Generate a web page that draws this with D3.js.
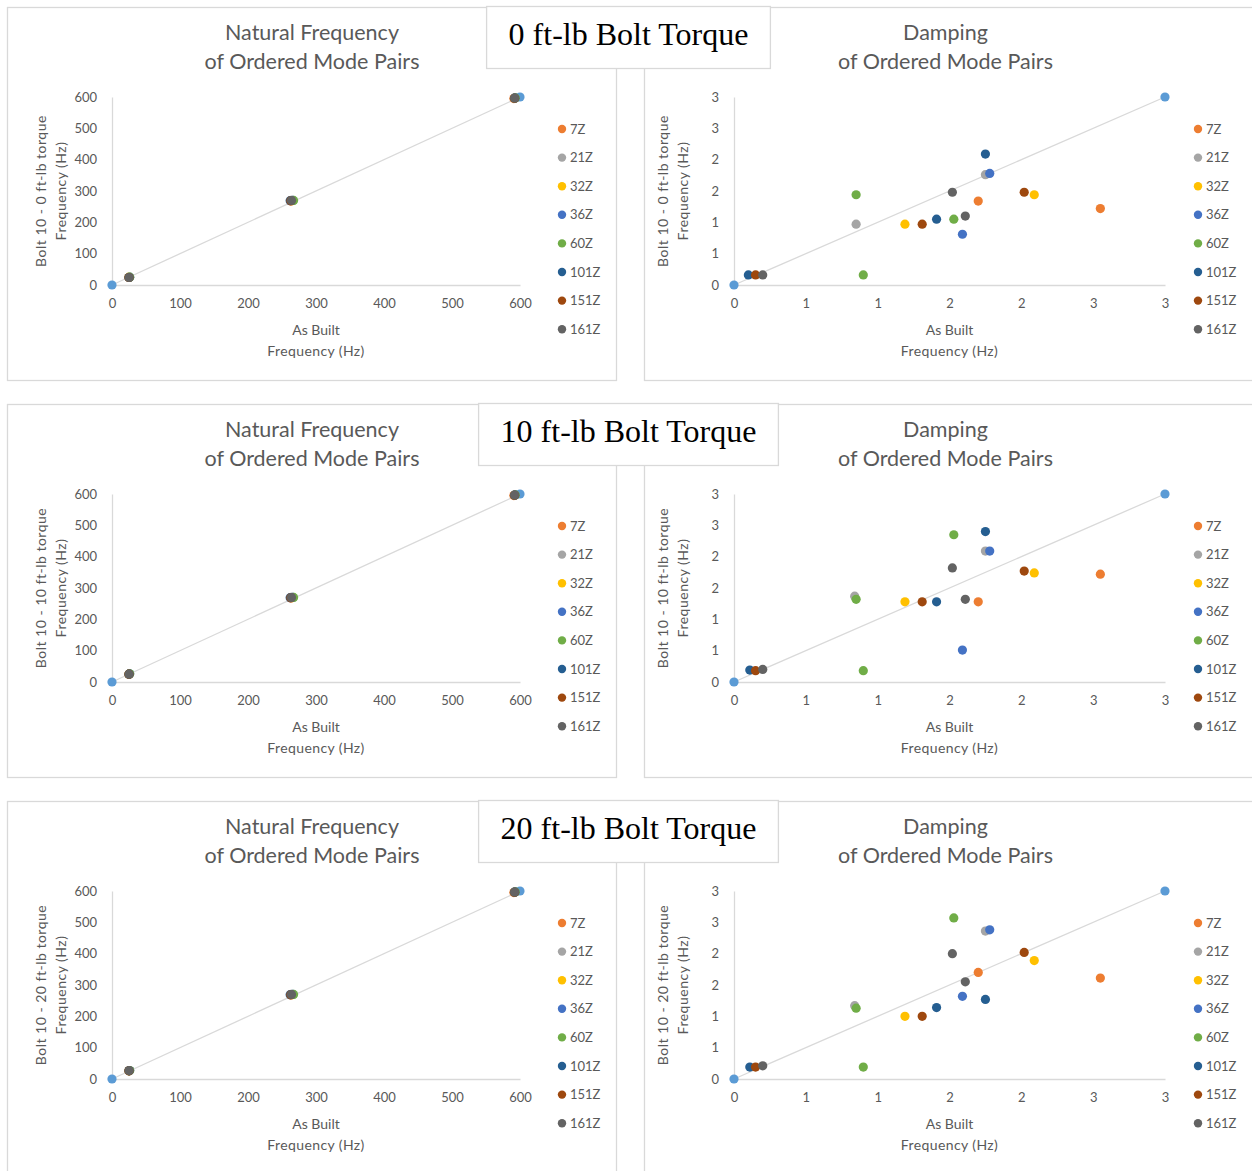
<!DOCTYPE html>
<html>
<head>
<meta charset="utf-8" />
<title>Ordered Mode Pairs - Bolt Torque</title>
<style>
body {
  margin: 0;
  background: #ffffff;
}

svg text {
  font-family: Lato, "Open Sans", sans-serif;
  fill: #595959;
}

.torque-title {
  font-family: "Liberation Serif", "Times New Roman", serif;
  fill: #000000;
}
</style>
<script src="https://cdn.jsdelivr.net/npm/d3@7"></script>
</head>
<body>
<svg class="chart"></svg>

<script>

/*******************************
 * Data *
 *******************************/
var torqueTitles = ["0 ft-lb Bolt Torque", "10 ft-lb Bolt Torque", "20 ft-lb Bolt Torque"];
var torqueValues = ["0", "10", "20"];

var modes = ["7Z", "21Z", "32Z", "36Z", "60Z", "101Z", "151Z", "161Z"];

var freqTicks = [0, 100, 200, 300, 400, 500, 600];
var freqTickLabels = ["0", "100", "200", "300", "400", "500", "600"];
var dampTicks = [0, 0.5, 1, 1.5, 2, 2.5, 3];
var dampTickLabels = ["0", "1", "1", "2", "2", "3", "3"];

// 1:1 reference line end points (as built = bolted)
var freqRefLine = [[0, 0], [600, 600]];
var dampRefLine = [[0, 0], [3, 3]];

// natural frequency, [as built, bolted] per mode
var freq0 = [
  [[25, 24], [263, 268], [591, 595]],
  [[25, 24], [264, 269], [592, 596]],
  [[25, 25], [265, 269], [592, 596]],
  [[26, 25], [266, 270], [593, 597]],
  [[26, 25], [267, 270], [593, 597]],
  [[25, 24], [262, 269], [592, 596]],
  [[25, 24], [263, 269], [592, 596]],
  [[25, 24], [264, 270], [592, 597]]
];
var freq10 = [
  [[25, 25], [263, 268], [591, 595]],
  [[25, 25], [264, 269], [592, 596]],
  [[25, 25], [265, 269], [592, 596]],
  [[26, 26], [266, 270], [593, 597]],
  [[26, 26], [267, 270], [593, 597]],
  [[25, 25], [262, 269], [592, 596]],
  [[25, 25], [263, 269], [592, 596]],
  [[25, 25], [264, 270], [592, 597]]
];
var freq20 = [
  [[25, 26], [263, 268], [591, 595]],
  [[25, 26], [264, 269], [592, 596]],
  [[25, 26], [265, 269], [592, 596]],
  [[26, 27], [266, 270], [593, 597]],
  [[26, 27], [267, 270], [593, 597]],
  [[25, 26], [262, 269], [592, 596]],
  [[25, 26], [263, 269], [592, 596]],
  [[25, 27], [264, 270], [592, 597]]
];

// damping, [as built, bolted] per mode
var damp0 = [
  [[1.70, 1.34], [2.55, 1.22]],
  [[0.85, 0.97], [1.75, 1.76]],
  [[1.19, 0.97], [2.09, 1.44]],
  [[1.78, 1.78], [1.59, 0.81]],
  [[0.85, 1.44], [0.90, 0.16], [1.53, 1.05]],
  [[0.10, 0.16], [1.41, 1.05], [1.75, 2.09]],
  [[0.15, 0.16], [1.31, 0.97], [2.02, 1.48]],
  [[0.20, 0.16], [1.52, 1.48], [1.61, 1.10]]
];
var damp10 = [
  [[1.70, 1.28], [2.55, 1.72]],
  [[0.84, 1.37], [1.75, 2.09]],
  [[1.19, 1.28], [2.09, 1.74]],
  [[1.78, 2.09], [1.59, 0.51]],
  [[0.85, 1.32], [0.90, 0.18], [1.53, 2.35]],
  [[0.11, 0.19], [1.41, 1.28], [1.75, 2.40]],
  [[0.15, 0.18], [1.31, 1.28], [2.02, 1.77]],
  [[0.20, 0.20], [1.52, 1.82], [1.61, 1.32]]
];
var damp20 = [
  [[1.70, 1.70], [2.55, 1.61]],
  [[0.84, 1.17], [1.75, 2.36]],
  [[1.19, 1.00], [2.09, 1.89]],
  [[1.78, 2.38], [1.59, 1.32]],
  [[0.85, 1.13], [0.90, 0.19], [1.53, 2.57]],
  [[0.11, 0.19], [1.41, 1.14], [1.75, 1.27]],
  [[0.15, 0.19], [1.31, 1.00], [2.02, 2.02]],
  [[0.20, 0.21], [1.52, 2.00], [1.61, 1.55]]
];

/*******************************
 * Styles and layout           *
 *******************************/
var width = 1252;
var height = 1171;
var modeColors = ["#ED7D31", "#A5A5A5", "#FFC000", "#4472C4", "#70AD47", "#255E91", "#9E480E", "#636363"];
var refColor = "#5B9BD5";
var gridColor = "#D9D9D9";
var rowOffsets = [0, 397, 794];
var dotRadius = 4.6;

var rows = torqueTitles.map(function(t, i) {
  return {
    title: t,
    torque: torqueValues[i],
    freq: [freq0, freq10, freq20][i],
    damp: [damp0, damp10, damp20][i],
    top: rowOffsets[i]
  };
});

var svg = d3.select(".chart")
    .attr("width", width)
    .attr("height", height);

svg.append("rect")
    .attr("width", width)
    .attr("height", height)
    .attr("fill", "#ffffff");

/*********************************************************
 * One scatter panel: title, axes, 1:1 line, dots, legend *
 *********************************************************/
function draw_panel(g, opts) {

  var x = d3.scaleLinear().domain(opts.domain).range([opts.left, opts.right]);
  var y = d3.scaleLinear().domain(opts.domain).range([285, 97]);

  // panel frame
  g.append("rect")
      .attr("x", opts.frame[0] + 0.5)
      .attr("y", 7.5)
      .attr("width", opts.frame[1] - opts.frame[0])
      .attr("height", 373)
      .attr("fill", "#ffffff")
      .attr("stroke", "#D9D9D9")
      .attr("stroke-width", 1.3);

  // chart title (two lines)
  var cx = (opts.left + opts.right) / 2 - 4;
  opts.titleLines.forEach(function(line, i) {
    g.append("text")
        .attr("x", cx)
        .attr("y", 40 + i * 29)
        .attr("text-anchor", "middle")
        .style("font-size", "21.5px")
        .text(line);
  });

  var xAxis = d3.axisBottom(x)
      .tickValues(opts.ticks)
      .tickFormat(function(d, i) { return opts.tickLabels[i]; })
      .tickSize(0)
      .tickPadding(14);

  var yAxis = d3.axisLeft(y)
      .tickValues(opts.ticks)
      .tickFormat(function(d, i) { return opts.tickLabels[i]; })
      .tickSize(0)
      .tickPadding(15);

  var xg = g.append("g")
      .attr("transform", "translate(0," + y(0) + ")")
      .call(xAxis);

  var yg = g.append("g")
      .attr("transform", "translate(" + x(0) + ",0)")
      .call(yAxis);

  [xg, yg].forEach(function(a) {
    a.select(".domain").attr("stroke", gridColor).attr("stroke-width", 1.3);
    a.selectAll("text")
        .attr("fill", "#595959")
        .style("font-size", "13px")
        .style("font-family", "Lato, sans-serif");
  });

  // axis titles
  g.append("text")
      .attr("x", (opts.left + opts.right) / 2)
      .attr("y", 335)
      .attr("text-anchor", "middle")
      .style("font-size", "14px")
      .text("As Built");

  g.append("text")
      .attr("x", (opts.left + opts.right) / 2)
      .attr("y", 356)
      .attr("text-anchor", "middle")
      .style("font-size", "14px")
      .style("letter-spacing", "0.4px")
      .text("Frequency (Hz)");

  var yTitle = g.append("g")
      .attr("transform", "translate(" + (opts.left - 66) + "," + 191 + ") rotate(-90)");

  yTitle.append("text")
      .attr("text-anchor", "middle")
      .attr("y", 0)
      .style("font-size", "14px")
      .style("letter-spacing", "0.5px")
      .text("Bolt 10 - " + opts.torque + " ft-lb torque");

  yTitle.append("text")
      .attr("text-anchor", "middle")
      .attr("y", 20)
      .style("font-size", "14px")
      .style("letter-spacing", "0.5px")
      .text("Frequency (Hz)");

  // 1:1 line with its end points
  g.append("path")
      .datum(opts.refLine)
      .attr("fill", "none")
      .attr("stroke", gridColor)
      .attr("stroke-width", 1.3)
      .attr("d", d3.line()
        .x(function(d) { return x(d[0]); })
        .y(function(d) { return y(d[1]); }));

  g.selectAll(".ref-dot")
      .data(opts.refLine)
      .enter()
      .append("circle")
      .attr("class", "ref-dot")
      .attr("cx", function(d) { return x(d[0]); })
      .attr("cy", function(d) { return y(d[1]); })
      .attr("r", dotRadius)
      .attr("fill", refColor);

  // one group per mode, drawn in legend order
  var series = g.selectAll(".series")
      .data(opts.data)
      .enter()
      .append("g")
      .attr("class", "series")
      .attr("fill", function(d, i) { return modeColors[i]; });

  series.selectAll("circle")
      .data(function(d) { return d; })
      .enter()
      .append("circle")
      .attr("cx", function(d) { return x(d[0]); })
      .attr("cy", function(d) { return y(d[1]); })
      .attr("r", dotRadius);

  // legend
  var legend = g.selectAll(".legend")
      .data(modes)
      .enter()
      .append("g")
      .attr("class", "legend")
      .attr("transform", function(d, i) {
        return "translate(" + opts.legendX + "," + (129 + i * 28.6) + ")";
      });

  legend.append("circle")
      .attr("r", 4.2)
      .attr("fill", function(d, i) { return modeColors[i]; });

  legend.append("text")
      .attr("x", 8)
      .attr("dy", "0.36em")
      .style("font-size", "13px")
      .text(function(d) { return d; });
}

/*******************************
 * Draw the three rows         *
 *******************************/
rows.forEach(function(row) {

  var g = svg.append("g")
      .attr("transform", "translate(0," + row.top + ")");

  draw_panel(g.append("g"), {
    frame: [7, 616],
    left: 112,
    right: 520,
    domain: [0, 600],
    ticks: freqTicks,
    tickLabels: freqTickLabels,
    titleLines: ["Natural Frequency", "of Ordered Mode Pairs"],
    torque: row.torque,
    refLine: freqRefLine,
    data: row.freq,
    legendX: 562
  });

  draw_panel(g.append("g"), {
    frame: [644, 1262],
    left: 734,
    right: 1165,
    domain: [0, 3],
    ticks: dampTicks,
    tickLabels: dampTickLabels,
    titleLines: ["Damping", "of Ordered Mode Pairs"],
    torque: row.torque,
    refLine: dampRefLine,
    data: row.damp,
    legendX: 1198
  });

  // torque title box, sized around its text
  var box = g.append("g");
  var rect = box.append("rect")
      .attr("fill", "#ffffff")
      .attr("stroke", "#D9D9D9")
      .attr("stroke-width", 1.3);

  var label = box.append("text")
      .attr("class", "torque-title")
      .attr("x", 628.5)
      .attr("y", 45)
      .attr("text-anchor", "middle")
      .style("font-size", "32px")
      .text(row.title);

  var w = label.node().getComputedTextLength() + 44;
  rect.attr("x", 628.5 - w / 2)
      .attr("y", 6.5)
      .attr("width", w)
      .attr("height", 62);
});

</script>
</body>
</html>
